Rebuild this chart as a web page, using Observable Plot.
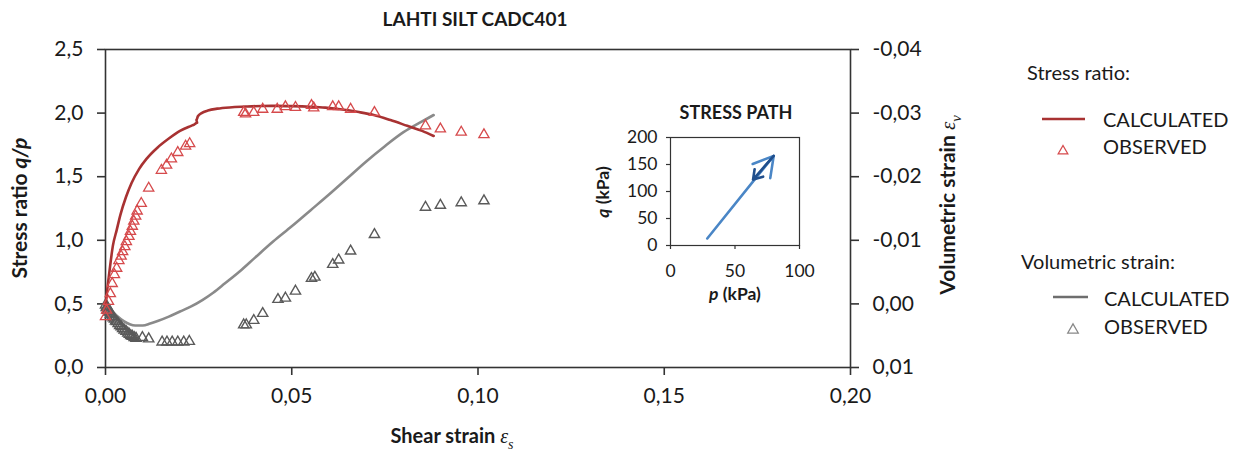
<!DOCTYPE html>
<html>
<head>
<meta charset="utf-8">
<script src="https://cdn.jsdelivr.net/npm/d3@7"></script>
<script src="https://cdn.jsdelivr.net/npm/@observablehq/plot@0.6"></script>
<style>
  body { margin: 0; background: #fff; }
  #chart { position: relative; width: 1239px; height: 453px; font-family: Lato, "Open Sans", sans-serif; }
  #chart > svg { position: absolute; }
</style>
</head>
<body>
<div id="chart"></div>
<script>
// Shear strain (x) and stress ratio q/p, model curve
const calcRatioStrain = [0, 0.0005, 0.0010, 0.0020, 0.0030, 0.0040, 0.0055, 0.0070, 0.0090, 0.0110, 0.0140, 0.0170, 0.0200, 0.0230, 0.0238, 0.0246, 0.0244, 0.0248, 0.0258, 0.0275, 0.0300, 0.0340, 0.0380, 0.0420, 0.0460, 0.0500, 0.0550, 0.0590, 0.0630, 0.0680, 0.0720, 0.0765, 0.0810, 0.0850, 0.0881];
const calcRatio       = [0.48, 0.62, 0.74, 0.96, 1.08, 1.20, 1.34, 1.45, 1.56, 1.64, 1.73, 1.80, 1.86, 1.90, 1.91, 1.925, 1.945, 1.975, 2.000, 2.020, 2.035, 2.046, 2.052, 2.056, 2.057, 2.055, 2.050, 2.043, 2.030, 2.008, 1.985, 1.945, 1.900, 1.860, 1.820];

// Stress ratio q/p, test data
const obsRatioStrain = [0.0000, 0.0003, 0.0008, 0.0013, 0.0018, 0.0024, 0.0030, 0.0036, 0.0042, 0.0046, 0.0052, 0.0056, 0.0063, 0.0067, 0.0072, 0.0076, 0.0081, 0.0085, 0.0096, 0.0116, 0.0150, 0.0164, 0.0177, 0.0194, 0.0215, 0.0226, 0.0371, 0.0376, 0.0398, 0.0422, 0.0461, 0.0483, 0.0510, 0.0553, 0.0559, 0.0610, 0.0626, 0.0658, 0.0722, 0.0859, 0.0899, 0.0955, 0.1016];
const obsRatio       = [0.40, 0.45, 0.52, 0.58, 0.66, 0.73, 0.78, 0.84, 0.875, 0.91, 0.95, 0.99, 1.03, 1.07, 1.11, 1.15, 1.19, 1.23, 1.29, 1.41, 1.55, 1.59, 1.64, 1.69, 1.74, 1.76, 2.005, 1.993, 2.005, 2.03, 2.03, 2.05, 2.045, 2.06, 2.04, 2.05, 2.05, 2.03, 2.005, 1.90, 1.875, 1.85, 1.83];

// Volumetric strain, model curve
const calcVolStrain = [0, 0.0015, 0.0031, 0.0049, 0.0065, 0.0080, 0.0100, 0.0120, 0.0140, 0.0170, 0.0200, 0.0230, 0.0260, 0.0290, 0.0320, 0.0360, 0.0400, 0.0450, 0.0500, 0.0550, 0.0600, 0.0650, 0.0700, 0.0750, 0.0800, 0.0850, 0.0881];
const calcVol       = [0.0000, 0.0009, 0.0019, 0.0027, 0.0032, 0.0034, 0.0034, 0.0031, 0.0027, 0.0020, 0.0012, 0.0004, -0.0006, -0.0018, -0.0032, -0.0051, -0.0072, -0.0098, -0.0122, -0.0147, -0.0172, -0.0198, -0.0224, -0.0248, -0.0270, -0.0287, -0.0297];

// Volumetric strain, test data
const obsVolStrain = [0.0000, 0.0002, 0.0004, 0.0005, 0.0007, 0.0009, 0.0011, 0.0013, 0.0015, 0.0018, 0.0021, 0.0024, 0.0027, 0.0030, 0.0034, 0.0038, 0.0042, 0.0046, 0.0050, 0.0055, 0.0060, 0.0064, 0.0068, 0.0072, 0.0077, 0.0082, 0.0099, 0.0116, 0.0152, 0.0165, 0.0179, 0.0194, 0.0210, 0.0225, 0.0371, 0.0378, 0.0398, 0.0422, 0.0463, 0.0483, 0.0510, 0.0553, 0.0562, 0.0610, 0.0626, 0.0658, 0.0722, 0.0859, 0.0899, 0.0955, 0.1016];
const obsVol       = [0.0002, 0.0006, 0.0004, 0.0010, 0.0008, 0.0013, 0.0012, 0.0017, 0.0015, 0.0020, 0.0022, 0.0024, 0.0027, 0.0028, 0.0031, 0.0034, 0.0036, 0.0039, 0.0041, 0.0043, 0.0046, 0.0048, 0.0050, 0.0051, 0.0053, 0.0054, 0.0053, 0.0055, 0.0060, 0.0060, 0.0060, 0.0060, 0.0060, 0.0059, 0.0033, 0.0033, 0.0026, 0.0015, -0.0007, -0.0009, -0.0020, -0.0040, -0.0042, -0.0062, -0.0069, -0.0083, -0.0109, -0.0152, -0.0155, -0.0159, -0.0162];

// Stress path (p, q in kPa)
const loadP = [28.5, 80];
const loadQ = [13, 166];
const unloadP = [80, 64];
const unloadQ = [166, 122];

// Tick values
const xTicks = [0, 0.05, 0.10, 0.15, 0.20];
const ratioTicks = [0, 0.5, 1.0, 1.5, 2.0, 2.5];
const volTicks = [0.01, 0.00, -0.01, -0.02, -0.03, -0.04];
const pTicks = [0, 50, 100];
const qTicks = [0, 50, 100, 150, 200];

// Colours
const RED_LINE = "#a83232";
const RED_PT = "#d64a4c";
const GRAY_LINE = "#8a8a8a";
const GRAY_PT = "#5a5a5a";
const AXIS = "#333";

const zip = (xs, ys) => xs.map((x, i) => ({x, y: ys[i]}));
const comma = s => s.replace(".", ",").replace("\u2212", "-");
// volumetric strain shares the left scale: 0.01 at the bottom, -0.04 at the top
const volToRatio = v => (0.01 - v) * 50;
const ratioToVol = r => { const v = Math.round((0.01 - r / 50) * 100) / 100; return Math.abs(v) < 1e-9 ? 0 : v; };

const FONT = "Lato, 'Open Sans', sans-serif";
const root = document.getElementById("chart");

const main = Plot.plot({
  width: 1239, height: 453,
  marginLeft: 105, marginRight: 389, marginTop: 49, marginBottom: 86,
  style: {fontFamily: FONT, fontSize: "21px", color: "#1a1a1a", background: "transparent", overflow: "visible"},
  x: {domain: [0, 0.2]},
  y: {domain: [0, 2.5]},
  marks: [
    Plot.frame({stroke: AXIS, strokeWidth: 1.6}),
    Plot.axisX({ticks: xTicks, tickSize: 8, tickPadding: 13, strokeWidth: 1.6, stroke: AXIS, label: null,
      tickFormat: d => comma(d3.format(".2f")(d))}),
    Plot.axisY({ticks: ratioTicks, tickSize: 8, tickPadding: 14, strokeWidth: 1.6, stroke: AXIS, label: null,
      tickFormat: d => comma(d3.format(".1f")(d))}),
    Plot.axisY({anchor: "right", ticks: volTicks.map(volToRatio), tickSize: 8, tickPadding: 14, strokeWidth: 1.6, stroke: AXIS, label: null,
      tickFormat: d => comma(d3.format(".2f")(ratioToVol(d)))}),
    Plot.line(zip(calcVolStrain, calcVol), {x: "x", y: d => volToRatio(d.y), stroke: GRAY_LINE, strokeWidth: 2.6, curve: "monotone-x"}),
    Plot.dot(zip(obsVolStrain, obsVol), {x: "x", y: d => volToRatio(d.y), symbol: "triangle", r: 3.8, stroke: GRAY_PT, strokeWidth: 1.4, fill: "none"}),
    Plot.line(zip(calcRatioStrain, calcRatio), {x: "x", y: "y", stroke: RED_LINE, strokeWidth: 2.6, curve: "monotone-x"}),
    Plot.dot(zip(obsRatioStrain, obsRatio), {x: "x", y: "y", symbol: "triangle", r: 3.8, stroke: RED_PT, strokeWidth: 1.3, fill: "none"})
  ]
});
root.appendChild(main);

// Stress path inset
const inset = Plot.plot({
  width: 230, height: 230,
  marginLeft: 80, marginRight: 21, marginTop: 42, marginBottom: 80,
  style: {fontFamily: FONT, fontSize: "17.5px", color: "#1a1a1a", background: "transparent", overflow: "visible"},
  x: {domain: [0, 100]},
  y: {domain: [0, 200]},
  marks: [
    Plot.frame({stroke: AXIS, strokeWidth: 1.2}),
    Plot.axisX({ticks: pTicks, tickSize: 4, tickPadding: 15, stroke: AXIS, strokeWidth: 1.2, label: null}),
    Plot.axisY({ticks: qTicks, tickSize: 4, tickPadding: 9, stroke: AXIS, strokeWidth: 1.2, label: null}),
    Plot.arrow([{x1: loadP[0], y1: loadQ[0], x2: loadP[1], y2: loadQ[1]}],
      {x1: "x1", y1: "y1", x2: "x2", y2: "y2", stroke: "#4a86c6", strokeWidth: 2.6, headLength: 13, headAngle: 60}),
    Plot.arrow([{x1: unloadP[0], y1: unloadQ[0], x2: unloadP[1], y2: unloadQ[1]}],
      {x1: "x1", y1: "y1", x2: "x2", y2: "y2", stroke: "#1f4e8c", strokeWidth: 2.6, headLength: 12, headAngle: 65})
  ]
});
inset.style.left = "590px";
inset.style.top = "95px";
root.appendChild(inset);

// Titles, axis labels and legend
const over = d3.select(root).append("svg")
  .attr("width", 1239).attr("height", 453)
  .style("left", "0px").style("top", "0px").style("pointer-events", "none")
  .attr("font-family", FONT).attr("fill", "#1a1a1a");

function label(x, y, size, weight, rotate, parts, anchor = "middle") {
  const t = over.append("text")
    .attr("transform", `translate(${x},${y}) rotate(${rotate})`)
    .attr("text-anchor", anchor).attr("dominant-baseline", "middle")
    .attr("font-size", size).attr("font-weight", weight);
  parts.forEach(p => {
    const s = t.append("tspan").text(p.text);
    if (p.italic) s.attr("font-style", "italic");
    if (p.serif) s.attr("font-family", "'Liberation Serif', serif").attr("font-weight", "normal");
    if (p.sub) s.attr("baseline-shift", "sub").attr("font-size", size * 0.7);
  });
  return t;
}

label(475, 21, 19, "bold", 0, [{text: "LAHTI SILT CADC401"}]);
label(22, 208, 21, "bold", -90, [{text: "Stress ratio "}, {text: "q/p", italic: true}]);
label(950, 205, 21, "bold", -90, [{text: "Volumetric strain "}, {text: "\u03b5", italic: true, serif: true}, {text: "v", italic: true, serif: true, sub: true}]);
label(452, 438, 20, "bold", 0, [{text: "Shear strain "}, {text: "\u03b5", italic: true, serif: true}, {text: "s", italic: true, serif: true, sub: true}]);

label(736, 114, 18, "bold", 0, [{text: "STRESS PATH"}]);
label(735, 296, 17.5, "bold", 0, [{text: "p", italic: true}, {text: " (kPa)"}]);
label(605, 192, 17.5, "bold", -90, [{text: "q", italic: true}, {text: " (kPa)"}]);

// legend
label(1027, 75, 20, "normal", 0, [{text: "Stress ratio:"}], "start");
over.append("line").attr("x1", 1042).attr("x2", 1085).attr("y1", 119).attr("y2", 119)
  .attr("stroke", RED_LINE).attr("stroke-width", 2.6);
label(1103, 122, 20, "normal", 0, [{text: "CALCULATED"}], "start");
over.append("path").attr("d", d3.symbol(d3.symbolTriangle, 40)())
  .attr("transform", "translate(1063,151)").attr("fill", "none").attr("stroke", RED_PT).attr("stroke-width", 1.3);
label(1103, 149, 20, "normal", 0, [{text: "OBSERVED"}], "start");

label(1021, 264, 20, "normal", 0, [{text: "Volumetric  strain:"}], "start");
over.append("line").attr("x1", 1053).attr("x2", 1088).attr("y1", 297).attr("y2", 297)
  .attr("stroke", "#6e6e6e").attr("stroke-width", 2.6);
label(1104, 301, 20, "normal", 0, [{text: "CALCULATED"}], "start");
over.append("path").attr("d", d3.symbol(d3.symbolTriangle, 48)())
  .attr("transform", "translate(1073,330)").attr("fill", "none").attr("stroke", "#888").attr("stroke-width", 1.3);
label(1104, 329, 20, "normal", 0, [{text: "OBSERVED"}], "start");
</script>
</body>
</html>
